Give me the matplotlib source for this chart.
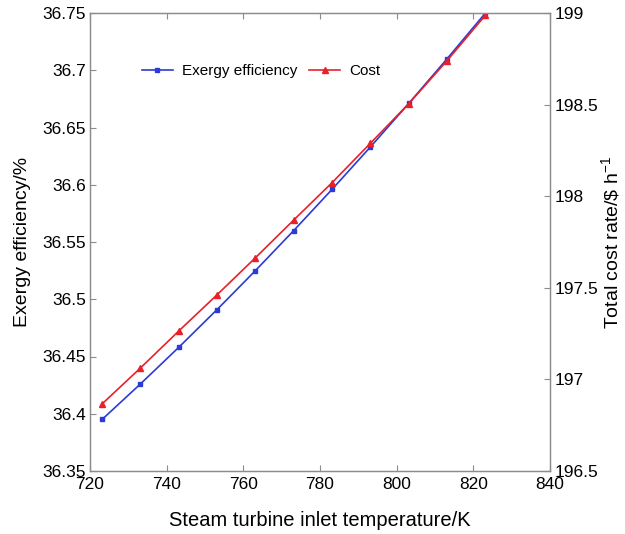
import numpy as np
import matplotlib
matplotlib.use('Agg')
import matplotlib.pyplot as plt

plt.rcParams['font.family'] = ['Liberation Sans', 'DejaVu Sans']
plt.rcParams['mathtext.fontset'] = 'custom'
plt.rcParams['mathtext.rm'] = 'Liberation Sans'
plt.rcParams['mathtext.it'] = 'Liberation Sans'

# Steam turbine inlet temperature (K)
temperature = [723.15, 733.15, 743.15, 753.15, 763.15, 773.15,
               783.15, 793.15, 803.15, 813.15, 823.15]
# Exergy efficiency (%)
exergy_eff = [36.395, 36.426, 36.458, 36.491, 36.525, 36.560,
              36.596, 36.633, 36.671, 36.710, 36.750]
# Total cost rate ($/h)
cost = [196.866, 197.062, 197.264, 197.462, 197.664, 197.870,
        198.074, 198.289, 198.505, 198.740, 198.988]

blue = '#2a3bd6'
red = '#e8202a'
spine = '#8c8c8c'

fig = plt.figure(figsize=(6.25, 5.34), dpi=100)
ax = fig.add_axes([90 / 625, 63 / 534, 460 / 625, 458 / 534])
ax2 = ax.twinx()

l1, = ax.plot(temperature, exergy_eff, '-s', color=blue, lw=1.2, ms=3.5,
              label='Exergy efficiency')
l2, = ax2.plot(temperature, cost, '-^', color=red, lw=1.2, ms=4.5,
               label='Cost')

ax.set_xlim(720, 840)
ax.set_ylim(36.35, 36.75)
ax2.set_ylim(196.5, 199)
ax.set_xticks(np.arange(720, 841, 20))
ax.set_yticks([36.35, 36.4, 36.45, 36.5, 36.55, 36.6, 36.65, 36.7, 36.75])
ax.set_yticklabels(['36.35', '36.4', '36.45', '36.5', '36.55', '36.6',
                    '36.65', '36.7', '36.75'])
ax2.set_yticks([196.5, 197, 197.5, 198, 198.5, 199])
ax2.set_yticklabels(['196.5', '197', '197.5', '198', '198.5', '199'])

for a in (ax, ax2):
    for s in a.spines.values():
        s.set_color(spine)
        s.set_linewidth(0.9)
ax.tick_params(axis='x', direction='in', top=True, color=spine,
               labelsize=12.5, length=4, pad=4)
ax.tick_params(axis='y', direction='in', color=spine, labelsize=12.5,
               length=4, pad=3)
ax2.tick_params(axis='y', direction='in', color=spine, labelsize=12.5,
                length=4, pad=3)

ax.set_xlabel('Steam turbine inlet temperature/K', fontsize=14.5,
              labelpad=14)
ax.set_ylabel('Exergy efficiency/%', fontsize=14, labelpad=8)
ax2.set_ylabel(r'Total cost rate/\$ h$^{-1}$', fontsize=14, labelpad=1)

ax2.legend([l1, l2], ['Exergy efficiency', 'Cost'], loc='center',
           bbox_to_anchor=(0.372, 0.873), ncol=2, frameon=False,
           fontsize=11, handlelength=2.0, handletextpad=0.6,
           columnspacing=0.8)

plt.savefig('out.png', dpi=100)
